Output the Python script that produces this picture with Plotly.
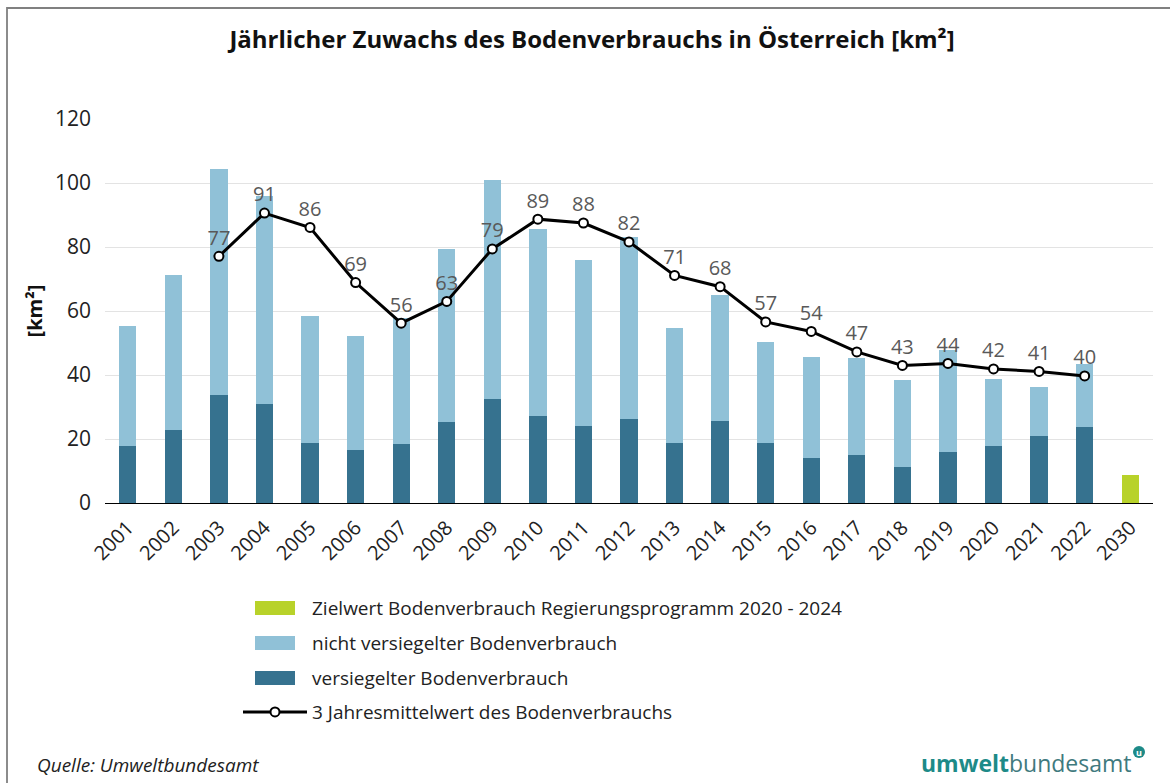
import plotly.graph_objects as go

W, H = 1170, 783
ML, MR, MT, MB = 105, 17, 119, 280

years = ["2001", "2002", "2003", "2004", "2005", "2006", "2007", "2008", "2009", "2010", "2011",
         "2012", "2013", "2014", "2015", "2016", "2017", "2018", "2019", "2020", "2021", "2022"]
categories = years + ["2030"]

versiegelt = [17.7, 22.9, 33.7, 31.0, 18.7, 16.7, 18.3, 25.4, 32.5, 27.3, 24.2,
              26.2, 18.7, 25.7, 18.7, 14.1, 14.9, 11.1, 15.9, 17.8, 20.8, 23.7]
gesamt = [55.2, 71.3, 104.5, 95.8, 58.3, 52.1, 57.8, 79.5, 101.0, 85.6, 75.9,
          83.0, 54.6, 65.1, 50.2, 45.5, 45.2, 38.4, 47.9, 38.9, 36.3, 43.5]
nicht_versiegelt = [round(g - v, 1) for g, v in zip(gesamt, versiegelt)]

mittel_years = years[2:]
mittelwert = [77.1, 90.6, 86.1, 68.9, 56.2, 63.0, 79.4, 88.7, 87.5, 81.6, 71.1,
              67.6, 56.6, 53.6, 47.2, 43.0, 43.6, 41.9, 41.1, 39.7]

ziel_year = ["2030"]
ziel_value = [8.8]

C_DARK = "#36728f"
C_LIGHT = "#90c1d7"
C_GREEN = "#b8d22a"
FONT = "Open Sans"

def px_x(p):
    return (p - ML) / (W - ML - MR)

def px_y(p):
    return (H - MB - p) / (H - MT - MB)

fig = go.Figure()

fig.add_trace(go.Bar(
    x=ziel_year, y=ziel_value, name="Zielwert Bodenverbrauch Regierungsprogramm 2020 - 2024",
    marker=dict(color=C_GREEN, line=dict(width=0)), legendrank=1, legendgroup="g1",
))
fig.add_trace(go.Bar(
    x=years, y=versiegelt, name="versiegelter Bodenverbrauch",
    marker=dict(color=C_DARK, line=dict(width=0)), legendrank=3, legendgroup="g3",
))
fig.add_trace(go.Bar(
    x=years, y=nicht_versiegelt, name="nicht versiegelter Bodenverbrauch",
    marker=dict(color=C_LIGHT, line=dict(width=0)), legendrank=2, legendgroup="g2",
))
fig.add_trace(go.Scatter(
    x=mittel_years, y=mittelwert, name="3 Jahresmittelwert des Bodenverbrauchs",
    mode="lines+markers+text",
    line=dict(color="black", width=3),
    marker=dict(size=9, color="white", line=dict(color="black", width=2)),
    texttemplate="%{y:.0f}", textposition="top center",
    textfont=dict(family=FONT, size=20, color="#595959"),
    legendrank=4, legendgroup="g4",
))

LEG_X = 238
LEG_TOP = 589
fig.update_layout(
    width=W, height=H,
    margin=dict(l=ML, r=MR, t=MT, b=MB, autoexpand=False),
    paper_bgcolor="white", plot_bgcolor="white",
    barmode="stack", bargap=0.62,
    font=dict(family=FONT, color="#222222"),
    title=dict(text="<b>Jährlicher Zuwachs des Bodenverbrauchs in Österreich [km²]</b>",
               x=0.506, xanchor="center", y=1 - 40 / H, yanchor="middle",
               font=dict(family=FONT, size=24, color="#111111")),
    xaxis=dict(
        categoryorder="array", categoryarray=categories,
        tickangle=-45, tickfont=dict(family=FONT, size=20, color="#222222"),
        showgrid=False, showline=True, linecolor="black", linewidth=1.2,
        ticks="", ticklabelstandoff=4,
    ),
    yaxis=dict(
        range=[0, 120], tickvals=[0, 20, 40, 60, 80, 100, 120],
        tickfont=dict(family=FONT, size=21, color="#222222"),
        showgrid=True, gridcolor="#e3e3e3", gridwidth=1,
        zeroline=False, showline=False, ticks="", ticklabelstandoff=13,
        title=dict(text="<b>[km²]</b>", font=dict(family=FONT, size=20, color="#111111"),
                   standoff=6),
    ),
    legend=dict(
        x=px_x(LEG_X), xanchor="left", y=px_y(LEG_TOP), yanchor="top",
        orientation="v", traceorder="grouped", tracegroupgap=7,
        font=dict(family=FONT, size=19, color="#222222"),
        bgcolor="rgba(0,0,0,0)", itemwidth=64,
    ),
    showlegend=True,
)

# wide legend swatches behind the native legend symbols
for yc, col in [(608, C_GREEN), (643, C_LIGHT), (678, C_DARK)]:
    fig.add_shape(type="rect", xref="paper", yref="paper",
                  x0=px_x(255), x1=px_x(295), y0=px_y(yc + 7), y1=px_y(yc - 7),
                  fillcolor=col, line=dict(width=0), layer="above")

# frame
fig.add_shape(type="rect", xref="paper", yref="paper",
              x0=px_x(7), x1=px_x(1185), y0=px_y(800), y1=px_y(8),
              line=dict(color="#808080", width=1.8), fillcolor="rgba(0,0,0,0)", layer="below")

# source
fig.add_annotation(text="<i>Quelle: Umweltbundesamt</i>", xref="paper", yref="paper",
                   x=px_x(35), y=px_y(765), xanchor="left", yanchor="middle", showarrow=False,
                   font=dict(family=FONT, size=19, color="#222222"))

# logo
fig.add_annotation(text="<b>umwelt</b><span style='color:#3f7a7e'>bundesamt</span>",
                   xref="paper", yref="paper", x=px_x(1134), y=px_y(763),
                   xanchor="right", yanchor="middle", showarrow=False,
                   font=dict(family=FONT, size=23, color="#1d8a88"))
fig.add_shape(type="circle", xref="paper", yref="paper",
              x0=px_x(1133), x1=px_x(1145), y0=px_y(758), y1=px_y(746),
              fillcolor="#1d8a88", line=dict(width=0))
fig.add_annotation(text="<b>u</b>", xref="paper", yref="paper", x=px_x(1139), y=px_y(752),
                   xanchor="center", yanchor="middle", showarrow=False,
                   font=dict(family=FONT, size=9, color="white"))

fig.write_html("out.html", config={"displayModeBar": False},
               post_script="document.body.style.margin='0';")
